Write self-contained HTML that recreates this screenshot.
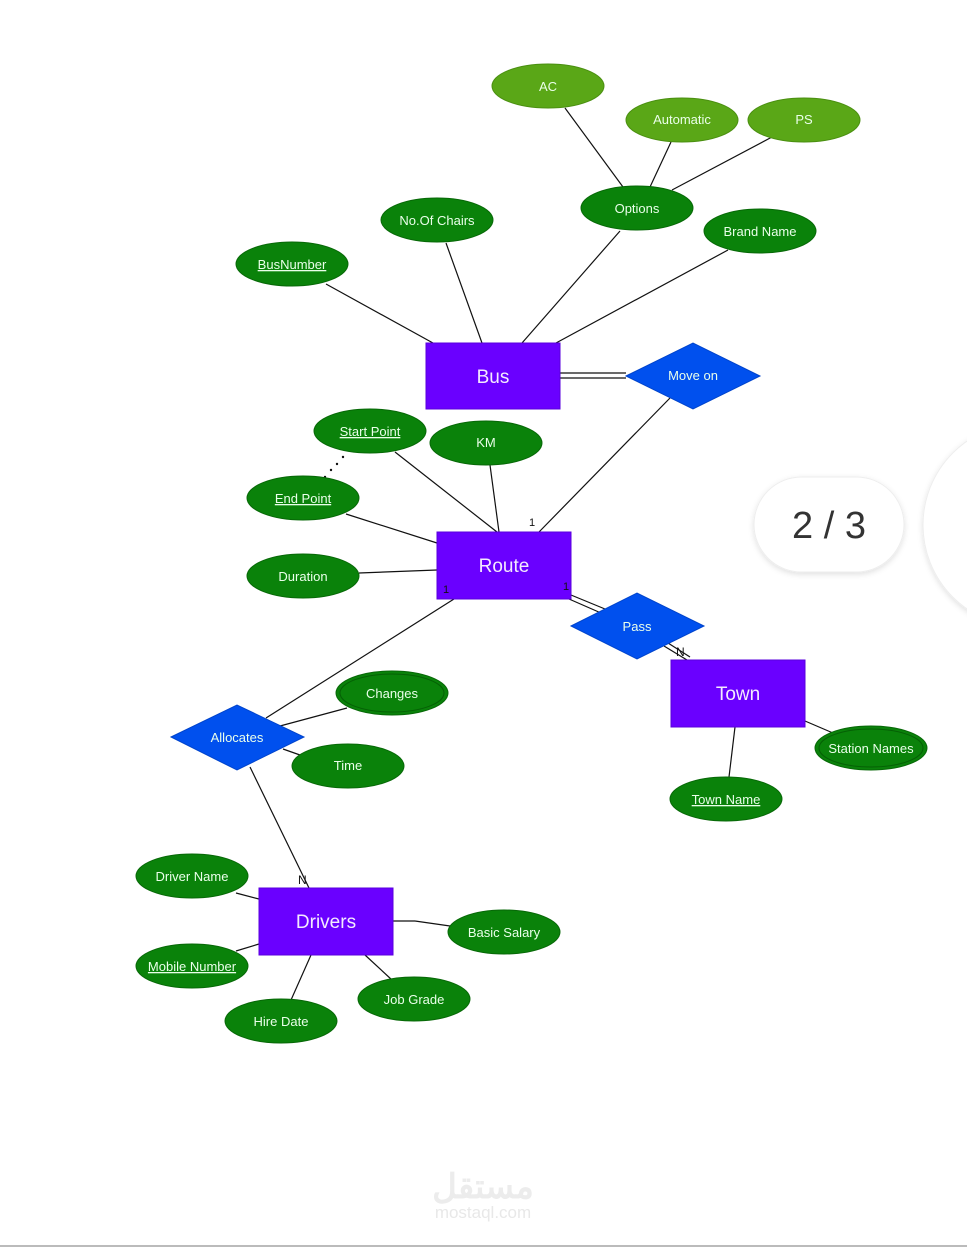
<!DOCTYPE html>
<html><head><meta charset="utf-8"><style>
html,body{margin:0;padding:0;background:#fff;}
svg{display:block;}
text{font-family:"Liberation Sans",Arial,sans-serif;}
</style></head><body>
<svg width="967" height="1247" viewBox="0 0 967 1247" xmlns="http://www.w3.org/2000/svg">
<defs>
<filter id="sh" x="-20%" y="-20%" width="140%" height="150%"><feDropShadow dx="0" dy="2" stdDeviation="3" flood-color="#000" flood-opacity="0.12"/></filter>
</defs>
<rect width="967" height="1247" fill="#fff"/>
<g stroke="#111" stroke-width="1.2" fill="none">
<line x1="565" y1="108" x2="623" y2="187"/>
<line x1="671" y1="142" x2="650" y2="187"/>
<line x1="772" y1="137" x2="672" y2="190"/>
<line x1="620" y1="231" x2="522" y2="343"/>
<line x1="446" y1="243" x2="482" y2="343"/>
<line x1="728" y1="250" x2="556" y2="343"/>
<line x1="326" y1="284" x2="433" y2="343"/>
<line x1="560" y1="373" x2="626" y2="373"/>
<line x1="560" y1="378" x2="626" y2="378"/>
<line x1="670" y1="398" x2="539" y2="532"/>
<line x1="395" y1="452" x2="497" y2="532"/>
<line x1="490" y1="465" x2="499" y2="532"/>
<line x1="346" y1="514" x2="437" y2="543"/>
<line x1="359" y1="573" x2="437" y2="570"/>
<line x1="454" y1="599" x2="266" y2="718"/>
<line x1="571" y1="595" x2="605" y2="609"/>
<line x1="569" y1="599" x2="601" y2="613"/>
<line x1="664" y1="646" x2="687" y2="660"/>
<line x1="668" y1="643" x2="690" y2="657"/>
<line x1="347" y1="708" x2="280" y2="726"/>
<line x1="300" y1="755" x2="283" y2="749"/>
<line x1="250" y1="767" x2="309" y2="888"/>
<line x1="236" y1="893" x2="259" y2="899"/>
<line x1="393" y1="921" x2="415" y2="921"/>
<line x1="415" y1="921" x2="450" y2="926"/>
<line x1="236" y1="951" x2="259" y2="944"/>
<line x1="365" y1="955" x2="392" y2="980"/>
<line x1="311" y1="955" x2="291" y2="1000"/>
<line x1="735" y1="727" x2="729" y2="777"/>
<line x1="805" y1="721" x2="833" y2="733"/>
</g>
<g fill="#111"><circle cx="343" cy="457" r="1.2"/><circle cx="337" cy="464" r="1.2"/><circle cx="331" cy="470" r="1.2"/><circle cx="325" cy="477" r="1.2"/></g>
<!-- light green -->
<g fill="#5aa717" stroke="#4a8f10" stroke-width="1">
<ellipse cx="548" cy="86" rx="56" ry="22"/>
<ellipse cx="682" cy="120" rx="56" ry="22"/>
<ellipse cx="804" cy="120" rx="56" ry="22"/>
</g>
<g fill="#0a820a" stroke="#076807" stroke-width="1">
<ellipse cx="637" cy="208" rx="56" ry="22"/>
<ellipse cx="437" cy="220" rx="56" ry="22"/>
<ellipse cx="760" cy="231" rx="56" ry="22"/>
<ellipse cx="292" cy="264" rx="56" ry="22"/>
<ellipse cx="370" cy="431" rx="56" ry="22"/>
<ellipse cx="486" cy="443" rx="56" ry="22"/>
<ellipse cx="303" cy="498" rx="56" ry="22"/>
<ellipse cx="303" cy="576" rx="56" ry="22"/>
<ellipse cx="392" cy="693" rx="56" ry="22"/>
<ellipse cx="348" cy="766" rx="56" ry="22"/>
<ellipse cx="871" cy="748" rx="56" ry="22"/>
<ellipse cx="726" cy="799" rx="56" ry="22"/>
<ellipse cx="192" cy="876" rx="56" ry="22"/>
<ellipse cx="504" cy="932" rx="56" ry="22"/>
<ellipse cx="192" cy="966" rx="56" ry="22"/>
<ellipse cx="414" cy="999" rx="56" ry="22"/>
<ellipse cx="281" cy="1021" rx="56" ry="22"/>
</g>
<g fill="none" stroke="#056005" stroke-width="1">
<ellipse cx="392" cy="693" rx="52" ry="19"/>
<ellipse cx="871" cy="748" rx="52" ry="19"/>
</g>
<g fill="#6a00ff" stroke="#5a00dd" stroke-width="1">
<rect x="426" y="343" width="134" height="66"/>
<rect x="437" y="532" width="134" height="67"/>
<rect x="671" y="660" width="134" height="67"/>
<rect x="259" y="888" width="134" height="67"/>
</g>
<g fill="#0050ee" stroke="#0044cc" stroke-width="1">
<polygon points="626,376 693,343 760,376 693,409"/>
<polygon points="571,626 637,593 704,626 637,659"/>
<polygon points="171,737 237,705 304,737 237,770"/>
</g>
<g fill="#eaffea" font-size="13" text-anchor="middle">
<text x="548" y="91">AC</text>
<text x="682" y="124">Automatic</text>
<text x="804" y="124">PS</text>
<text x="637" y="213">Options</text>
<text x="437" y="225">No.Of Chairs</text>
<text x="760" y="236">Brand Name</text>
<text x="292" y="269" text-decoration="underline">BusNumber</text>
<text x="370" y="436" text-decoration="underline">Start Point</text>
<text x="486" y="447">KM</text>
<text x="303" y="503" text-decoration="underline">End Point</text>
<text x="303" y="581">Duration</text>
<text x="392" y="698">Changes</text>
<text x="348" y="770">Time</text>
<text x="871" y="753">Station Names</text>
<text x="726" y="804" text-decoration="underline">Town Name</text>
<text x="192" y="881">Driver Name</text>
<text x="504" y="937">Basic Salary</text>
<text x="192" y="971" text-decoration="underline">Mobile Number</text>
<text x="414" y="1004">Job Grade</text>
<text x="281" y="1026">Hire Date</text>
<text x="693" y="380">Move on</text>
<text x="637" y="631">Pass</text>
<text x="237" y="742">Allocates</text>
</g>
<g fill="#f4eaff" font-size="19" text-anchor="middle">
<text x="493" y="383">Bus</text>
<text x="504" y="572">Route</text>
<text x="738" y="700">Town</text>
<text x="326" y="928">Drivers</text>
</g>
<g fill="#111" font-size="11">
<text x="529" y="526">1</text>
<text x="443" y="593">1</text>
<text x="563" y="590">1</text>
<text x="676" y="656" font-size="12">N</text>
<text x="298" y="884" font-size="12">N</text>
</g>
<!-- page indicator -->
<rect x="754" y="477" width="150" height="95" rx="47.5" fill="#fff" stroke="#eee" filter="url(#sh)"/>
<text x="829" y="538" font-size="38" fill="#333" text-anchor="middle">2 / 3</text>
<circle cx="1025" cy="525" r="102" fill="#fff" stroke="#eee" filter="url(#sh)"/>
<!-- watermark -->
<text x="483" y="1198" font-size="34" fill="#ececec" text-anchor="middle" font-weight="bold" font-family="'DejaVu Sans',sans-serif">مستقل</text>
<text x="483" y="1218" font-size="17" fill="#e8e8e8" text-anchor="middle">mostaql.com</text>
<rect x="0" y="1245" width="967" height="2" fill="#bbb"/>
</svg>
</body></html>
